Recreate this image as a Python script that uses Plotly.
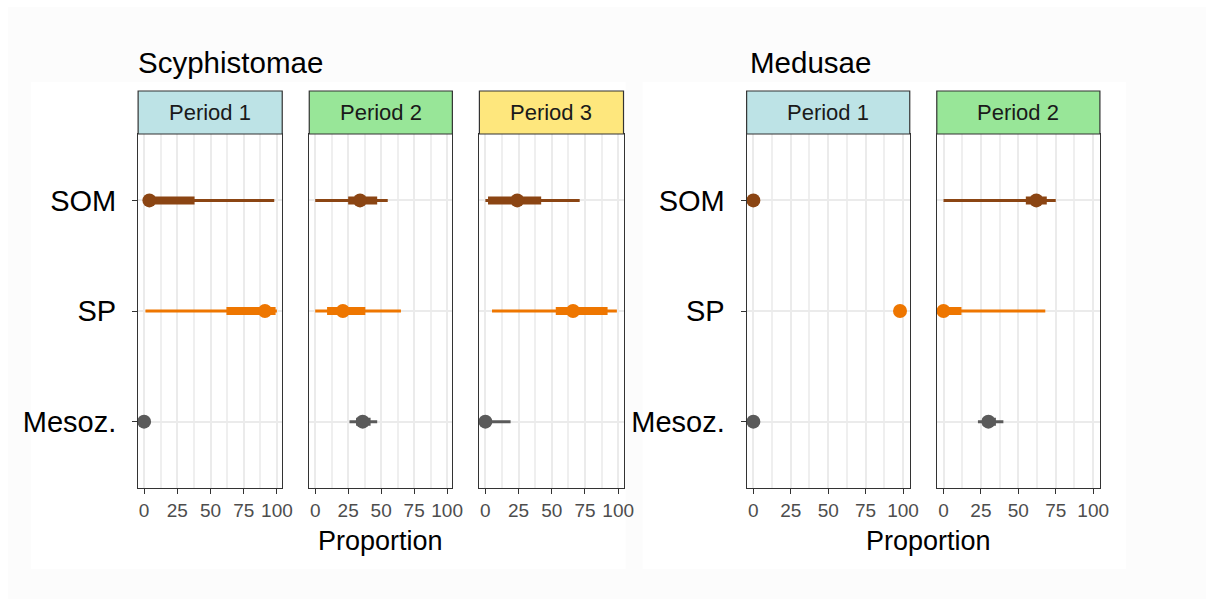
import plotly.graph_objects as go

# Interval summaries (percent) per panel, rows ordered SOM, SP, Mesoz.
CATEGORIES = ["SOM", "SP", "Mesoz."]

SCY_P1_MED = [4, 91, 0]
SCY_P1_LO50 = [1, 62, 0]
SCY_P1_HI50 = [38, 99, 0]
SCY_P1_LO95 = [0, 1, 0]
SCY_P1_HI95 = [98, 100, 0]

SCY_P2_MED = [34, 21, 36]
SCY_P2_LO50 = [25, 9, 31]
SCY_P2_HI50 = [47, 38, 42]
SCY_P2_LO95 = [0, 0, 26]
SCY_P2_HI95 = [55, 65, 47]

SCY_P3_MED = [24, 66, 0]
SCY_P3_LO50 = [2, 53, 0]
SCY_P3_HI50 = [42, 92, 4]
SCY_P3_LO95 = [0, 5, 0]
SCY_P3_HI95 = [71, 99, 19]

MED_P1_MED = [0, 98, 0]
MED_P1_LO50 = [0, 98, 0]
MED_P1_HI50 = [0, 98, 0]
MED_P1_LO95 = [0, 98, 0]
MED_P1_HI95 = [0, 98, 0]

MED_P2_MED = [62, 0, 30]
MED_P2_LO50 = [55, 0, 26]
MED_P2_HI50 = [69, 12, 35]
MED_P2_LO95 = [0, 0, 23]
MED_P2_HI95 = [75, 68, 40]

X_TICKS = [0, 25, 50, 75, 100]
X_MINOR = [12.5, 37.5, 62.5, 87.5]

# Styling
COLORS = {"SOM": "#8B4513", "SP": "#EE7600", "Mesoz.": "#5A5A5A"}
STRIP_COLORS = {"Period 1": "#BDE3E6", "Period 2": "#98E698", "Period 3": "#FEE77D"}
FONT = "Liberation Sans, Arial, sans-serif"
PAGE_W, PAGE_H = 1201, 606   # drawable page size in pixels

def px_x(p):
    return p / PAGE_W

def px_y(p):
    return 1 - p / PAGE_H

PANEL_TOP, PANEL_BOTTOM = 134, 488
STRIP_TOP = 91

panels = [
    dict(left=138, right=282, rng=[-4.5, 104], label="Period 1", first=True,
         med=SCY_P1_MED, lo50=SCY_P1_LO50, hi50=SCY_P1_HI50, lo95=SCY_P1_LO95, hi95=SCY_P1_HI95),
    dict(left=309, right=452, rng=[-4.5, 104], label="Period 2", first=False,
         med=SCY_P2_MED, lo50=SCY_P2_LO50, hi50=SCY_P2_HI50, lo95=SCY_P2_LO95, hi95=SCY_P2_HI95),
    dict(left=479, right=623, rng=[-4.5, 104], label="Period 3", first=False,
         med=SCY_P3_MED, lo50=SCY_P3_LO50, hi50=SCY_P3_HI50, lo95=SCY_P3_LO95, hi95=SCY_P3_HI95),
    dict(left=746, right=909, rng=[-4.5, 104.5], label="Period 1", first=True,
         med=MED_P1_MED, lo50=MED_P1_LO50, hi50=MED_P1_HI50, lo95=MED_P1_LO95, hi95=MED_P1_HI95),
    dict(left=936, right=1099, rng=[-4.5, 104.5], label="Period 2", first=False,
         med=MED_P2_MED, lo50=MED_P2_LO50, hi50=MED_P2_HI50, lo95=MED_P2_LO95, hi95=MED_P2_HI95),
]

fig = go.Figure()
layout = {}
shapes = []
annotations = []

# page background and the two plot boxes
shapes.append(dict(type="rect", xref="paper", yref="paper", layer="below",
                   x0=px_x(8), x1=px_x(1205), y0=px_y(599), y1=px_y(7),
                   fillcolor="#FCFCFC", line=dict(width=0)))
for (a, b) in [(31, 625), (642, 1125)]:
    shapes.append(dict(type="rect", xref="paper", yref="paper", layer="below",
                       x0=px_x(a), x1=px_x(b), y0=px_y(569), y1=px_y(82),
                       fillcolor="#FFFFFF", line=dict(width=0)))

for i, p in enumerate(panels):
    n = "" if i == 0 else str(i + 1)
    xa, ya = "x" + n, "y" + n
    layout["xaxis" + n] = dict(
        domain=[px_x(p["left"]), px_x(p["right"])], anchor=ya, range=p["rng"],
        tickmode="array", tickvals=X_TICKS, ticktext=[str(v) for v in X_TICKS],
        ticks="outside", ticklen=5, tickwidth=1.3, tickcolor="#333333",
        tickfont=dict(family=FONT, size=19, color="#4D4D4D"),
        showgrid=True, gridcolor="#EBEBEB", gridwidth=2,
        minor=dict(tickvals=X_MINOR, showgrid=True,
                   gridcolor="#EFEFEF", gridwidth=1.6, ticks=""),
        showline=True, mirror=True, linecolor="#333333", linewidth=1.2,
        zeroline=False, fixedrange=True,
    )
    layout["yaxis" + n] = dict(
        domain=[px_y(PANEL_BOTTOM), px_y(PANEL_TOP)], anchor=xa,
        type="category", categoryorder="array", categoryarray=CATEGORIES[::-1],
        range=[-0.6, 2.6],
        showticklabels=p["first"], ticks="outside" if p["first"] else "",
        ticklen=5, tickwidth=1.3, tickcolor="#333333", ticklabelstandoff=10,
        tickfont=dict(family=FONT, size=29, color="#000000"),
        showgrid=True, gridcolor="#EBEBEB", gridwidth=2,
        showline=True, mirror=True, linecolor="#333333", linewidth=1.2,
        zeroline=False, fixedrange=True,
    )

    for j, cat in enumerate(CATEGORIES):
        col = COLORS[cat]
        fig.add_trace(go.Scatter(x=[p["lo95"][j], p["hi95"][j]], y=[cat, cat], xaxis=xa, yaxis=ya,
                                 mode="lines", line=dict(color=col, width=3), showlegend=False,
                                 hoverinfo="skip"))
        fig.add_trace(go.Scatter(x=[p["lo50"][j], p["hi50"][j]], y=[cat, cat], xaxis=xa, yaxis=ya,
                                 mode="lines", line=dict(color=col, width=8), showlegend=False,
                                 hoverinfo="skip"))
        fig.add_trace(go.Scatter(x=[p["med"][j]], y=[cat], xaxis=xa, yaxis=ya,
                                 mode="markers", marker=dict(color=col, size=14, line=dict(width=0)),
                                 showlegend=False, cliponaxis=False, name=cat))

    # facet strip
    shapes.append(dict(type="rect", xref="paper", yref="paper", layer="above",
                       x0=px_x(p["left"]), x1=px_x(p["right"]),
                       y0=px_y(PANEL_TOP), y1=px_y(STRIP_TOP),
                       fillcolor=STRIP_COLORS[p["label"]],
                       line=dict(color="#333333", width=1.2)))
    annotations.append(dict(xref="paper", yref="paper",
                            x=px_x((p["left"] + p["right"]) / 2),
                            y=px_y((PANEL_TOP + STRIP_TOP) / 2),
                            text=p["label"], showarrow=False,
                            xanchor="center", yanchor="middle",
                            font=dict(family=FONT, size=22, color="#1A1A1A")))

# group titles and axis titles
for text, x in [("Scyphistomae", 136), ("Medusae", 747)]:
    annotations.append(dict(xref="paper", yref="paper", x=px_x(x), y=px_y(62),
                            text=text, showarrow=False, xanchor="left", yanchor="middle",
                            font=dict(family=FONT, size=29.5, color="#000000")))
for x in [380, 928]:
    annotations.append(dict(xref="paper", yref="paper", x=px_x(x), y=px_y(541),
                            text="Proportion", showarrow=False, xanchor="center", yanchor="middle",
                            font=dict(family=FONT, size=27, color="#000000")))

fig.update_layout(
    autosize=True, margin=dict(l=0, r=0, t=0, b=0),
    paper_bgcolor="#FFFFFF", plot_bgcolor="#FFFFFF",
    shapes=shapes, annotations=annotations, showlegend=False,
    **layout,
)

fig.write_html("out.html", default_width="100vw", default_height="100vh",
               post_script="document.body.style.margin='0';document.body.style.overflow='hidden';")
